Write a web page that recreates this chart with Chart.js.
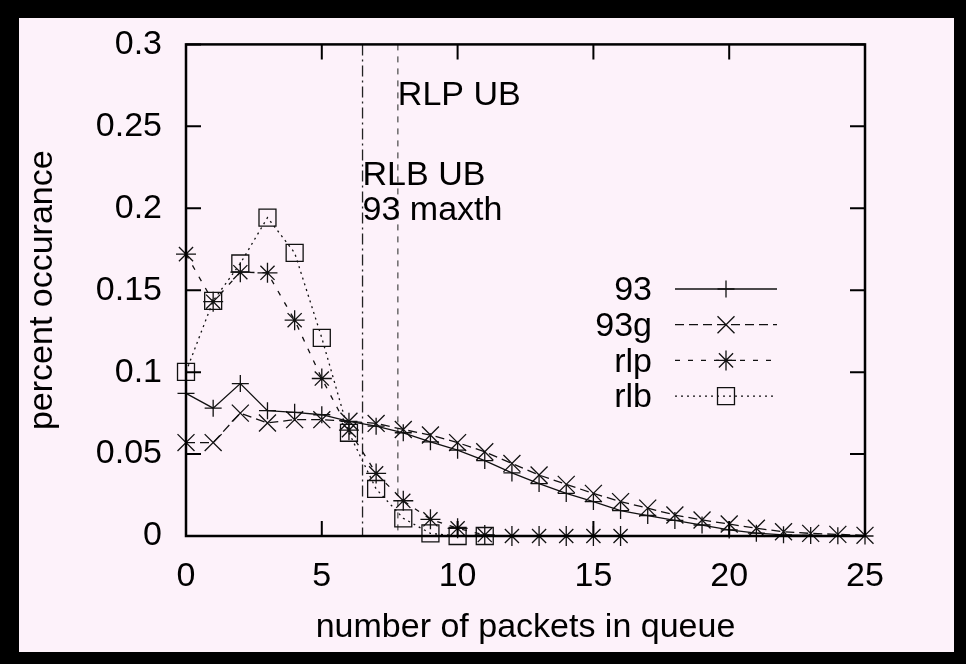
<!DOCTYPE html>
<html>
<head>
<meta charset="utf-8">
<script src="https://cdn.jsdelivr.net/npm/chart.js@4.4.1/dist/chart.umd.min.js"></script>
<style>
  html, body { margin: 0; padding: 0; background: #000; }
  canvas { display: block; }
</style>
</head>
<body>
<canvas id="queueChart" width="966" height="664"></canvas>
<script>
// ===== data =====
const queueLen = [0, 1, 2, 3, 4, 5, 6, 7, 8, 9, 10, 11, 12, 13, 14, 15, 16, 17, 18, 19, 20, 21, 22, 23, 24, 25];

const occ93 = [0.087, 0.078, 0.093, 0.0765, 0.0755, 0.074, 0.070, 0.067, 0.063, 0.0575, 0.0524, 0.046, 0.0385, 0.032, 0.026, 0.021, 0.0155, 0.0125, 0.0095, 0.0067, 0.0037, 0.0017, 0.0007, 0.0003, 0.0001, 0];
const occ93g = [0.057, 0.057, 0.075, 0.069, 0.071, 0.071, 0.070, 0.0687, 0.065, 0.0616, 0.057, 0.0514, 0.0443, 0.0372, 0.0315, 0.026, 0.021, 0.017, 0.0128, 0.0098, 0.0073, 0.0047, 0.0026, 0.0016, 0.001, 0.0004];
const occRlp = [0.172, 0.143, 0.161, 0.1606, 0.1317, 0.0961, 0.0646, 0.0382, 0.0215, 0.0102, 0.0047, 0.0006, 0, 0, 0, 0, 0];
const occRlb = [0.1002, 0.1435, 0.1663, 0.1943, 0.1728, 0.1209, 0.063, 0.0287, 0.0108, 0.0016, 0, 0];

const seriesNames = ['93', '93g', 'rlp', 'rlb'];

const xTicks = [0, 5, 10, 15, 20, 25];
const yTicks = [0, 0.05, 0.1, 0.15, 0.2, 0.25, 0.3];

// vertical bounds and their notes
const boundX = [6.5, 7.8];
const noteText = ['RLB UB', '93 maxth', 'RLP UB'];
const noteX = [6.5, 6.5, 7.8];
const noteY = [0.214, 0.193, 0.263];

const FONT = 'Liberation Sans, Arial, Helvetica, sans-serif';
const INK = '#111';

function points(values) {
  return values.map((v, i) => ({ x: queueLen[i], y: v }));
}

// ===== plugins =====
const framePlugin = {
  id: 'frame',
  beforeDraw(chart) {
    const { ctx } = chart;
    ctx.save();
    ctx.fillStyle = '#000';
    ctx.fillRect(0, 0, chart.width, chart.height);
    ctx.fillStyle = '#fdf2fa';
    ctx.fillRect(19, 18, 935, 634);
    ctx.restore();
  },
  beforeDatasetsDraw(chart) {
    const { ctx, chartArea: a, scales: { x, y } } = chart;
    ctx.save();
    ctx.lineWidth = 1.3;

    // dash-dot line
    ctx.strokeStyle = '#222';
    ctx.setLineDash([11, 4, 2, 4]);
    ctx.beginPath();
    ctx.moveTo(x.getPixelForValue(boundX[0]), a.top);
    ctx.lineTo(x.getPixelForValue(boundX[0]), a.bottom);
    ctx.stroke();

    // short dashes
    ctx.strokeStyle = '#555';
    ctx.setLineDash([6, 6]);
    ctx.beginPath();
    ctx.moveTo(x.getPixelForValue(boundX[1]), a.top);
    ctx.lineTo(x.getPixelForValue(boundX[1]), a.bottom);
    ctx.stroke();

    ctx.setLineDash([]);
    ctx.fillStyle = '#000';
    ctx.font = '34px ' + FONT;
    ctx.textAlign = 'left';
    ctx.textBaseline = 'alphabetic';
    noteText.forEach((t, i) => {
      ctx.fillText(t, x.getPixelForValue(noteX[i]), y.getPixelForValue(noteY[i]));
    });
    ctx.restore();
  },
  afterDraw(chart) {
    const { ctx, chartArea: a, scales: { x, y } } = chart;
    ctx.save();
    ctx.strokeStyle = '#000';
    ctx.lineWidth = 2.5;
    ctx.strokeRect(a.left, a.top, a.right - a.left, a.bottom - a.top);

    ctx.lineWidth = 2;
    ctx.beginPath();
    xTicks.forEach(v => {
      const px = x.getPixelForValue(v);
      ctx.moveTo(px, a.bottom);
      ctx.lineTo(px, a.bottom - 15);
      ctx.moveTo(px, a.top);
      ctx.lineTo(px, a.top + 15);
    });
    yTicks.forEach(v => {
      const py = y.getPixelForValue(v);
      ctx.moveTo(a.left, py);
      ctx.lineTo(a.left + 15, py);
      ctx.moveTo(a.right, py);
      ctx.lineTo(a.right - 15, py);
    });
    ctx.stroke();

    // key, gnuplot style: label, sample line, marker in the middle
    ctx.font = '34px ' + FONT;
    ctx.textAlign = 'right';
    ctx.textBaseline = 'middle';
    chart.data.datasets.forEach((ds, i) => {
      const rowY = 289 + i * 35.7;
      ctx.fillStyle = '#000';
      ctx.fillText(ds.label, 652, rowY + 2);

      ctx.strokeStyle = ds.borderColor;
      ctx.lineWidth = ds.borderWidth;
      ctx.setLineDash(ds.borderDash || []);
      ctx.beginPath();
      ctx.moveTo(675, rowY);
      ctx.lineTo(777, rowY);
      ctx.stroke();

      ctx.setLineDash([]);
      ctx.fillStyle = 'rgba(0,0,0,0)';
      ctx.lineWidth = ds.pointBorderWidth;
      Chart.helpers.drawPoint(ctx, {
        pointStyle: ds.pointStyle,
        radius: ds.pointRadius,
        borderWidth: ds.pointBorderWidth,
        rotation: 0
      }, 726, rowY);
    });
    ctx.restore();
  }
};

function series(label, values, style, radius, dash) {
  return {
    label: label,
    data: points(values),
    borderColor: INK,
    borderWidth: 1.3,
    borderDash: dash,
    pointStyle: style,
    pointRadius: radius,
    pointBorderWidth: 1.3,
    pointBorderColor: INK,
    pointBackgroundColor: 'rgba(0,0,0,0)',
    pointHoverRadius: radius,
    tension: 0,
    fill: false,
    clip: false
  };
}

// ===== chart =====
const queueChart = document.getElementById('queueChart');

new Chart(queueChart, {
  type: 'line',

  data: {
    datasets: [
      series(seriesNames[0], occ93, 'cross', 8.5, []),
      series(seriesNames[1], occ93g, 'crossRot', 12, [9, 5]),
      series(seriesNames[2], occRlp, 'star', 10, [5, 8]),
      series(seriesNames[3], occRlb, 'rect', 12, [2, 4])
    ]
  },

  options: {
    responsive: false,
    animation: false,
    events: [],

    layout: {
      padding: { top: 42, right: 101, bottom: 0, left: 0 }
    },

    scales: {
      x: {
        type: 'linear',
        min: 0,
        max: 25,
        afterBuildTicks: scale => { scale.ticks = xTicks.map(v => ({ value: v })); },
        afterFit: scale => { scale.height = 128; },
        grid: { display: false, drawTicks: false },
        border: { display: false },
        ticks: {
          padding: 20,
          color: '#000',
          font: { family: FONT, size: 34 },
          maxRotation: 0
        },
        title: {
          display: true,
          text: 'number of packets in queue',
          color: '#000',
          font: { family: FONT, size: 34 },
          padding: { top: 0, bottom: 16 }
        }
      },
      y: {
        type: 'linear',
        min: 0,
        max: 0.3,
        afterBuildTicks: scale => { scale.ticks = yTicks.map(v => ({ value: v })); },
        afterFit: scale => { scale.width = 186; },
        grid: { display: false, drawTicks: false },
        border: { display: false },
        ticks: {
          padding: 24,
          color: '#000',
          font: { family: FONT, size: 34 },
          callback: v => String(Number(v.toFixed(2)))
        },
        title: {
          display: true,
          text: 'percent occurance',
          color: '#000',
          font: { family: FONT, size: 34 },
          padding: { top: 22, bottom: 0 }
        }
      }
    },

    plugins: {
      legend: { display: false },
      tooltip: { enabled: false }
    }
  },

  plugins: [framePlugin]
});
</script>
</body>
</html>
